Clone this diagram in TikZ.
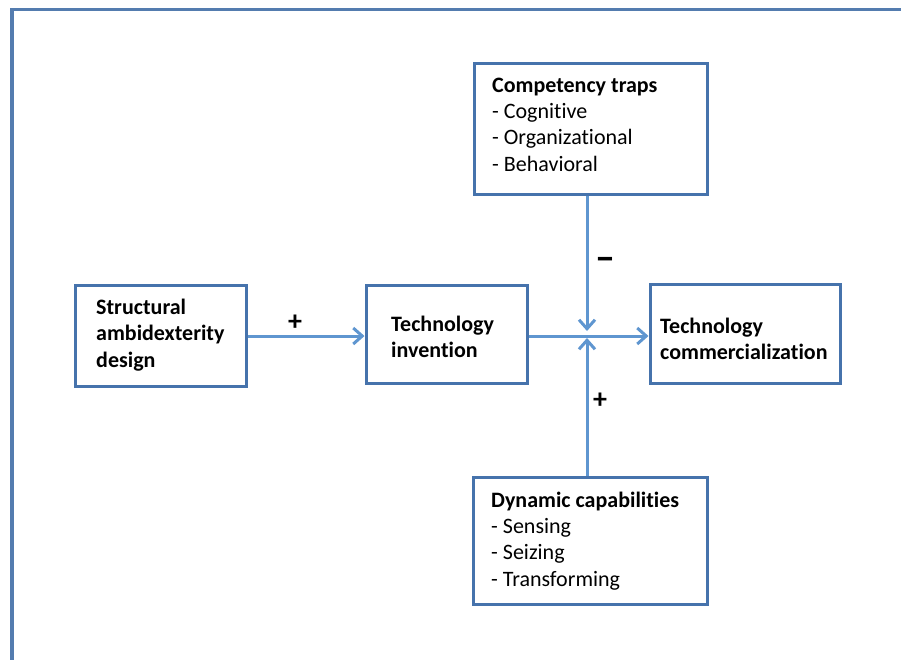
\documentclass[tikz,border=0pt]{standalone}
\usepackage{fontspec}
\setmainfont{Carlito}[Ligatures=NoCommon]
\usetikzlibrary{arrows.meta}
\definecolor{boxblue}{RGB}{70,115,172}
\definecolor{arrowblue}{RGB}{95,150,208}
\definecolor{frameblue}{RGB}{84,124,175}
\begin{document}
\begin{tikzpicture}[x=1pt,y=-1pt,
  boxnode/.style={draw=boxblue,line width=3pt,rectangle,inner sep=0pt},
  txt/.style={anchor=west,align=left,inner sep=0pt,font=\fontsize{22}{26.3}\selectfont},
  conn/.style={draw=arrowblue,line width=3pt},
  arr/.style={conn,-{Straight Barb[length=9pt,width=16pt,line width=3pt]}},
  sign/.style={font=\fontsize{28}{30}\selectfont\bfseries,inner sep=0pt}]
\useasboundingbox (0,0) rectangle (901,659);
% outer frame
\draw[frameblue,line width=3.5pt] (12,670) -- (12,9.5) -- (910,9.5);
% boxes
\node[boxnode,minimum width=171pt,minimum height=101pt] (sad) at (160.5,335.5) {};
\node[boxnode,minimum width=161pt,minimum height=98pt] (ti) at (446.5,334.5) {};
\node[boxnode,minimum width=190pt,minimum height=99pt] (tc) at (745,333.5) {};
\node[boxnode,minimum width=233pt,minimum height=131pt] (ct) at (590.5,128.5) {};
\node[boxnode,minimum width=234pt,minimum height=127pt] (dc) at (590,540.5) {};
% texts
\node[txt] (sadt) at (96,335) {\bfseries Structural\\\bfseries ambidexterity\\\bfseries design};
\node[txt] (tit) at (391,337) {\bfseries Technology\\\bfseries invention};
\node[txt] (tct) at (660,339) {\bfseries Technology\\\bfseries commercialization};
\node[txt] (ctt) at (492,124.5) {\bfseries Competency traps\\- Cognitive\\- Organizational\\- Behavioral};
\node[txt] (dct) at (491,541) {\bfseries Dynamic capabilities\\- Sensing\\- Seizing\\- Transforming};
% junction
\coordinate (j) at (587,336);
\coordinate (jt) at (587,331);
\coordinate (jb) at (587,338);
% connectors
\draw[arr] (sad.east |- j) -- (ti.west |- j);
\draw[arr] (ti.east |- j) -- (tc.west |- j);
\draw[arr] (ct.south -| j) -- (jt);
\draw[arr] (dc.north -| j) -- (jb);
% signs
\node[sign] (p1) at (295,323) {+};
\node[sign,font=\fontsize{40}{40}\selectfont\bfseries] (m1) at (605,264) {\textendash};
\node[sign] (p2) at (600,401) {+};
\end{tikzpicture}
\end{document}
